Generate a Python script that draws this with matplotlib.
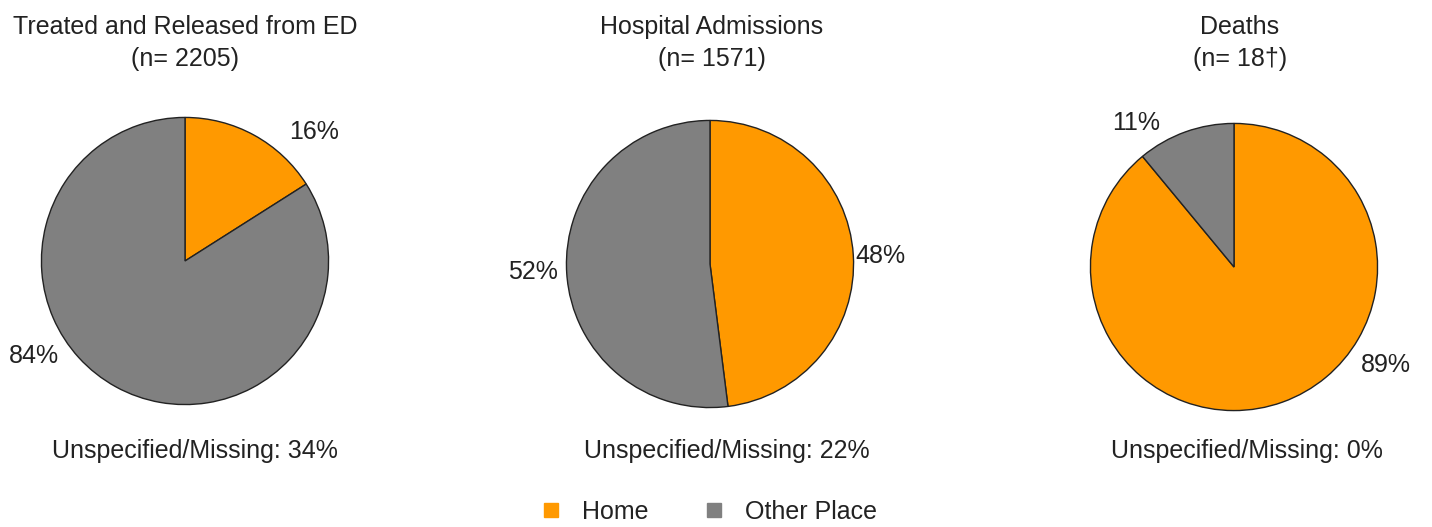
import matplotlib.pyplot as plt
from matplotlib.lines import Line2D

plt.rcParams['font.family'] = ['Liberation Sans', 'DejaVu Sans']

titles = ["Treated and Released from ED\n(n= 2205)",
          "Hospital Admissions\n(n= 1571)",
          "Deaths\n(n= 18\u2020)"]
categories = ["Home", "Other Place"]
home_pct = [16, 48, 89]
other_pct = [84, 52, 11]
missing_pct = [34, 22, 0]
colors = ["#FF9900", "#808080"]

W, H = 1432, 527
fig = plt.figure(figsize=(W / 100, H / 100), dpi=100)

# layout: pie centres in pixels, radius in pixels
centres = [(185, 261), (710, 264), (1234, 267)]
r = 145
title_x = [185, 712, 1240]
missing_x = [195, 727, 1247]
# label offsets (in pie radii) for [home, other], like the Excel best-fit placement
label_pos = [[(0.90, 0.90), (-1.055, -0.66)],
             [(1.19, 0.055), (-1.23, -0.055)],
             [(1.06, -0.68), (-0.68, 1.0)]]

for i in range(3):
    cx, cy = centres[i]
    ax = fig.add_axes([(cx - r) / W, (H - cy - r) / H, 2 * r / W, 2 * r / H])
    vals = [home_pct[i], other_pct[i]]
    ax.pie(vals, colors=colors, startangle=90, counterclock=False,
           wedgeprops=dict(edgecolor='#222222', linewidth=1))
    for v, (lx, ly) in zip(vals, label_pos[i]):
        ax.text(lx, ly, f"{v}%", ha='center', va='center', fontsize=18, color='#222222')
    ax.set_xlim(-1.01, 1.01)
    ax.set_ylim(-1.01, 1.01)
    fig.text(title_x[i] / W, 1 - 43 / H, titles[i], ha='center', va='center',
             fontsize=18, color='#222222', linespacing=1.45)
    fig.text(missing_x[i] / W, 1 - 451 / H, f"Unspecified/Missing: {missing_pct[i]}%",
             ha='center', va='center', fontsize=18, color='#222222')

handles = [Line2D([], [], marker='s', linestyle='none', markersize=10,
                  markerfacecolor=c, markeredgecolor=c) for c in colors]
fig.legend(handles, categories, loc='center', bbox_to_anchor=(708 / W, 1 - 512 / H),
           ncol=2, frameon=False, fontsize=18, handlelength=1.0, handletextpad=0.75,
           columnspacing=2.1, labelcolor='#222222')

fig.savefig("out.png", dpi=100)
